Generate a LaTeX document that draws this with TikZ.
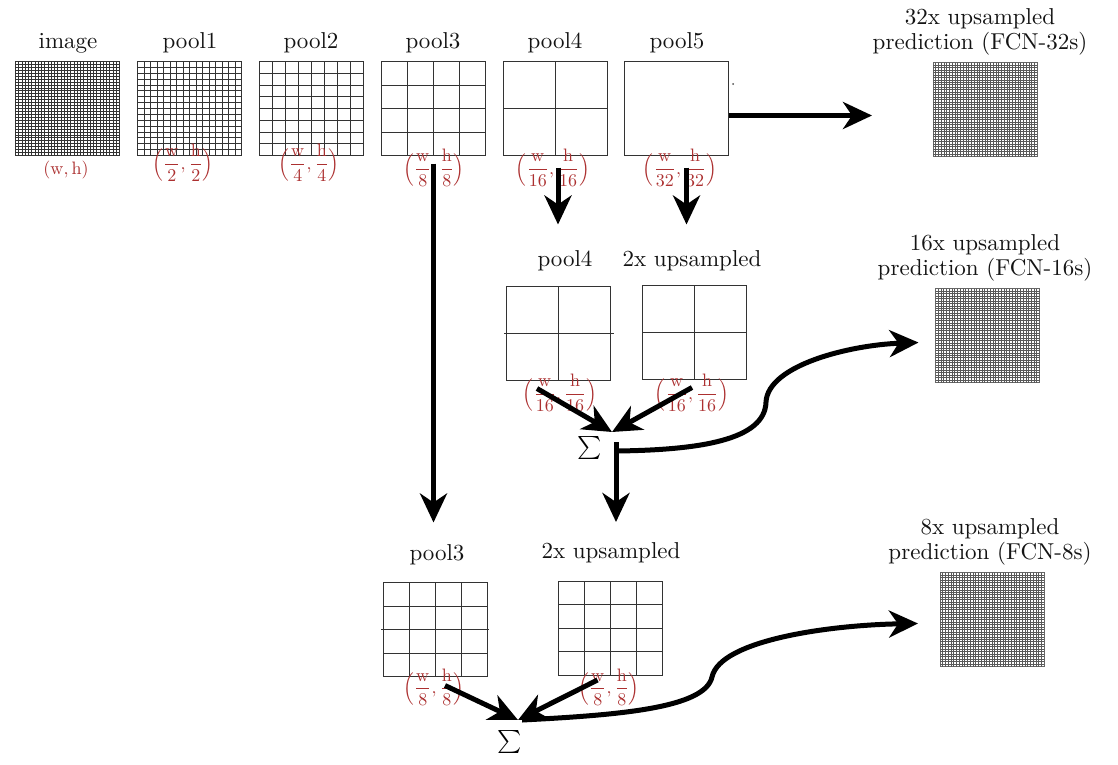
\documentclass[tikz,border=0pt]{standalone}
\usepackage{amsmath}
\usepackage{exscale}
\usetikzlibrary{arrows.meta,calc}
\definecolor{labred}{RGB}{172,48,48}
\tikzset{
 fm/.style={draw=black!80, line width=1pt, minimum width=104pt, minimum height=94pt, inner sep=0pt, outer sep=0pt},
 gl/.style={line width=0.8pt, draw=black!80},
 fgl/.style={line width=0.6pt, draw=black!65},
 ttl/.style={font=\fontsize{10}{10.9}\selectfont, scale=2.3, transform shape, text=black!92, inner sep=0pt, align=center},
 dimlab/.style={font=\fontsize{10}{12}\selectfont, scale=1.8, transform shape, text=labred, inner sep=0pt},
 bigarrow/.style={line width=5pt, -{Stealth[length=29pt,width=27pt,inset=9pt]}},
 sigmalab/.style={font=\fontsize{10}{12}\selectfont, scale=2.3, transform shape, inner sep=0pt}
}
\newcommand\gridin[3]{%
  \pgfmathtruncatemacro\gm{#2-1}%
  \foreach \k in {1,...,\gm}{%
    \draw[#3] ($(#1.north west)!{\k/#2}!(#1.north east)$) -- ($(#1.south west)!{\k/#2}!(#1.south east)$);
    \draw[#3] ($(#1.north west)!{\k/#2}!(#1.south west)$) -- ($(#1.north east)!{\k/#2}!(#1.south east)$);
  }}
\newcommand\fr[1]{\Bigl(\dfrac{\mathrm{w}}{#1},\dfrac{\mathrm{h}}{#1}\Bigr)}
\begin{document}
\begin{tikzpicture}[x=1pt,y=-1pt]
\useasboundingbox (0,0) rectangle (1118,764);
% ---- top row ----
\node[fm] (img) at (67.5,108.5) {};
\node[fm] (p1) at (189.5,108.5) {};
\node[fm] (p2) at (311,108.5) {};
\node[fm] (p3) at (433.5,108.5) {};
\node[fm] (p4) at (555,108.5) {};
\node[fm] (p5) at (676.5,108.5) {};
\gridin{img}{32}{gl}
\gridin{p1}{16}{gl}
\gridin{p2}{8}{gl}
\gridin{p3}{4}{gl}
\gridin{p4}{2}{gl}
\fill[black!70] (733,84) circle (1pt);
\node[ttl] (timg) at (68,43) {image};
\node[ttl] (tp1) at (190,43) {pool1};
\node[ttl] (tp2) at (311,43) {pool2};
\node[ttl] (tp3) at (433,43) {pool3};
\node[ttl] (tp4) at (555,43) {pool4};
\node[ttl] (tp5) at (677,43) {pool5};
\node[dimlab] (fimg) at (66,170) {$(\mathrm{w},\mathrm{h})$};
\node[dimlab] (f1) at (183,163) {$\fr{2}$};
\node[dimlab] (f2) at (309,163) {$\fr{4}$};
\node[dimlab] (f3) at (434,168) {$\fr{8}$};
\node[dimlab] (f4) at (553,168) {$\fr{16}$};
\node[dimlab] (f5) at (680,168) {$\fr{32}$};
% ---- outputs ----
\node[fm, draw=black!60] (o32) at (985,109.5) {};
\gridin{o32}{38}{fgl}
\node[ttl] (t32) at (980,32) {32x upsampled\\prediction (FCN-32s)};
\node[fm, draw=black!60] (o16) at (987.5,335.5) {};
\gridin{o16}{38}{fgl}
\node[ttl] (t16) at (985,258) {16x upsampled\\prediction (FCN-16s)};
\node[fm, draw=black!60] (o8) at (992,619.5) {};
\gridin{o8}{38}{fgl}
\node[ttl] (t8) at (990,542) {8x upsampled\\prediction (FCN-8s)};
% ---- middle row ----
\node[fm] (m4) at (558,333.5) {};
\gridin{m4}{2}{gl}
\draw[gl] ($(m4.west)+(-2,0)$) -- ($(m4.east)+(4,0)$);
\node[fm] (mu) at (694,332.5) {};
\gridin{mu}{2}{gl}
\node[ttl] (tm4) at (565,261) {pool4};
\node[ttl] (tmu) at (692,261) {2x upsampled};
\node[dimlab] (fm4) at (560,393) {$\fr{16}$};
\node[dimlab] (fmu) at (692,393) {$\fr{16}$};
\node[sigmalab] (s1) at (590,448) {$\sum$};
% ---- bottom row ----
\node[fm] (b3) at (435,629.5) {};
\gridin{b3}{4}{gl}
\draw[gl] ($(b3.west)+(-2,0)$) -- ($(b3.east)+(2,0)$);
\node[fm] (bu) at (610.5,628) {};
\gridin{bu}{4}{gl}
\node[ttl] (tb3) at (437,555) {pool3};
\node[ttl] (tbu) at (611,553) {2x upsampled};
\node[dimlab] (fb3) at (434,687) {$\fr{8}$};
\node[dimlab] (fbu) at (609,687) {$\fr{8}$};
\node[sigmalab] (s2) at (510,742) {$\sum$};
% ---- connectors ----
\draw[bigarrow] ($(p5.east)+(0,7)$) -- ($(o32.west)+(-61,6)$);
\draw[bigarrow] ($(p4.south)+(3,12)$) -- ++(0,57);
\draw[bigarrow] ($(p5.south)+(10,12)$) -- ++(0,57);
\draw[bigarrow] ($(p3.south)+(0,8)$) -- ++(0,359);
\coordinate (s1in) at ($(s1)+(22,-16)$);
\coordinate (s1o) at ($(s1)+(26,-6)$);
\draw[bigarrow] ($(m4.south)+(-21,8)$) -- (s1in);
\draw[bigarrow] ($(mu.south)+(-2,8)$) -- (s1in);
\draw[bigarrow] (s1o) -- ($(bu.north)+(5.5,-59)$);
\draw[bigarrow] ($(s1o)+(0,9)$) .. controls (700,450) and (765,440) .. (766,402)
   .. controls (768,365) and (850,345) .. ($(o16.west)+(-17,7)$);
\coordinate (s2in) at ($(s2)+(8,-22)$);
\draw[bigarrow] ($(b3.south)+(10,9)$) -- (s2in);
\draw[bigarrow] ($(bu.south)+(-13,5)$) -- (s2in);
\draw[bigarrow] ($(s2)+(12,-22)$) .. controls (620,715) and (705,708) .. (712,677)
   .. controls (720,640) and (830,625) .. ($(o8.west)+(-22,4)$);
\end{tikzpicture}
\end{document}
